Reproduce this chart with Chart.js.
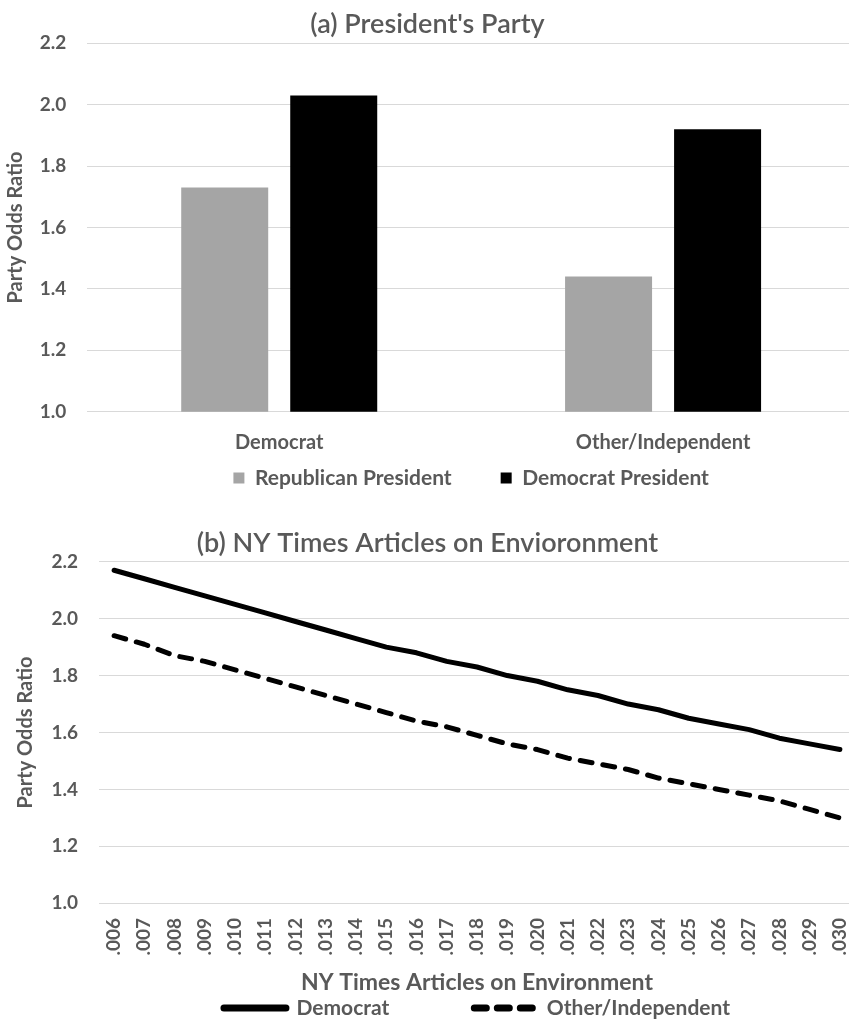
<!DOCTYPE html>
<html>
<head>
<meta charset="utf-8">
<script src="https://cdn.jsdelivr.net/npm/chart.js@4/dist/chart.umd.min.js"></script>
<style>
  html, body { margin: 0; padding: 0; background: #fff; width: 849px; height: 1021px; overflow: hidden; position: relative; }
  canvas { position: absolute; left: 0; }
  #presChart { top: 0; }
  #nytChart { top: 500px; }
</style>
</head>
<body>
<canvas id="presChart" width="860" height="500"></canvas>
<canvas id="nytChart" width="860" height="530"></canvas>
<script>
// (a) odds ratio by respondent party and president's party
const partyCategories = ['Democrat', 'Other/Independent'];
const republicanPresident = [1.73, 1.44];
const democratPresident = [2.03, 1.92];

// (b) odds ratio against share of NY Times articles on environment
const articleShares = ['.006', '.007', '.008', '.009', '.010', '.011', '.012', '.013', '.014', '.015',
  '.016', '.017', '.018', '.019', '.020', '.021', '.022', '.023', '.024', '.025',
  '.026', '.027', '.028', '.029', '.030'];
const democratOdds = [2.17, 2.14, 2.11, 2.08, 2.05, 2.02, 1.99, 1.96, 1.93, 1.90,
  1.88, 1.85, 1.83, 1.80, 1.78, 1.75, 1.73, 1.70, 1.68, 1.65,
  1.63, 1.61, 1.58, 1.56, 1.54];
const otherOdds = [1.94, 1.91, 1.87, 1.85, 1.82, 1.79, 1.76, 1.73, 1.70, 1.67,
  1.64, 1.62, 1.59, 1.56, 1.54, 1.51, 1.49, 1.47, 1.44, 1.42,
  1.40, 1.38, 1.36, 1.33, 1.30];

const oddsMin = 1.0;
const oddsMax = 2.2;
const oddsStep = 0.2;

Chart.defaults.font.family = 'Lato, "Open Sans", sans-serif';
Chart.defaults.color = '#595959';
const gridColor = '#d9d9d9';
const textColor = '#595959';

// pin axis sizes so the plot boxes land where the original's do
const fixWidth = (w) => (scale) => { scale.width = w; };
const fixHeight = (h) => (scale) => { scale.height = h; };

function oddsAxis(width, titlePad) {
    return {
        min: oddsMin,
        max: oddsMax,
        ticks: {
            stepSize: oddsStep,
            padding: 21,
            font: {size: 19, weight: 'bold'},
            callback: (v) => v.toFixed(1)
        },
        grid: {color: gridColor, drawTicks: false},
        border: {display: false},
        title: {
            display: true,
            text: 'Party Odds Ratio',
            color: textColor,
            font: {size: 20, weight: 'bold'},
            padding: {top: titlePad, bottom: 0}
        },
        afterFit: fixWidth(width)
    };
}

// with usePointStyle the default labels lose the dataset dash, so put it back
function lineLegendLabels(chart) {
    const items = Chart.defaults.plugins.legend.labels.generateLabels(chart);
    items.forEach((item) => {
        const ds = chart.data.datasets[item.datasetIndex];
        item.lineDash = ds.borderDash || [];
        item.lineWidth = 7;
        item.lineCap = 'round';
        item.strokeStyle = ds.borderColor;
        item.pointStyle = 'line';
    });
    return items;
}

new Chart(document.getElementById('presChart'), {
    type: 'bar',
    data: {
        labels: partyCategories,
        datasets: [
            {
                label: 'Republican President',
                data: republicanPresident,
                backgroundColor: '#a5a5a5',
                categoryPercentage: 0.568,
                barPercentage: 0.798
            },
            {
                label: 'Democrat President',
                data: democratPresident,
                backgroundColor: '#000000',
                categoryPercentage: 0.568,
                barPercentage: 0.798
            }
        ]
    },
    options: {
        responsive: false,
        animation: false,
        layout: {padding: {left: 0, right: 5, top: 0, bottom: 1.5}},
        plugins: {
            title: {
                display: true,
                text: "(a) President's Party",
                color: textColor,
                font: {size: 27, weight: 600},
                padding: {top: 8, bottom: 2.9}
            },
            legend: {
                position: 'bottom',
                fullSize: false,
                labels: {boxWidth: 11, boxHeight: 11, padding: 49, color: textColor, font: {size: 21, weight: 'bold'}}
            },
            tooltip: {enabled: false}
        },
        scales: {
            x: {
                grid: {display: false},
                border: {display: false},
                // mirrored so the labels are not clipped to the thin axis box
                ticks: {mirror: true, padding: -42.4, font: {size: 20, weight: 'bold'}},
                afterFit: fixHeight(6.8)
            },
            y: oddsAxis(87.3, 3.5)
        }
    }
});

new Chart(document.getElementById('nytChart'), {
    type: 'line',
    data: {
        labels: articleShares,
        datasets: [
            {
                label: 'Democrat',
                data: democratOdds,
                borderColor: '#000000',
                backgroundColor: '#000000',
                borderWidth: 5,
                borderCapStyle: 'round',
                borderJoinStyle: 'round',
                pointRadius: 0,
                tension: 0,
                fill: false
            },
            {
                label: 'Other/Independent',
                data: otherOdds,
                borderColor: '#000000',
                backgroundColor: '#000000',
                borderWidth: 5,
                borderDash: [12, 11],
                borderCapStyle: 'round',
                borderJoinStyle: 'round',
                pointRadius: 0,
                tension: 0,
                fill: false
            }
        ]
    },
    options: {
        responsive: false,
        animation: false,
        layout: {padding: {left: 0, right: 5, top: 0, bottom: 1.5}},
        plugins: {
            title: {
                display: true,
                text: '(b) NY Times Articles on Envioronment',
                color: textColor,
                font: {size: 27, weight: 600},
                padding: {top: 26.8, bottom: 2.5}
            },
            legend: {
                position: 'bottom',
                fullSize: false,
                labels: {
                    usePointStyle: true,
                    pointStyle: 'line',
                    pointStyleWidth: 62,
                    padding: 85,
                    color: textColor,
                    font: {size: 21, weight: 'bold'},
                    generateLabels: lineLegendLabels
                }
            },
            tooltip: {enabled: false}
        },
        scales: {
            x: {
                offset: true,
                grid: {display: false},
                border: {display: false},
                ticks: {
                    autoSkip: false,
                    minRotation: 90,
                    maxRotation: 90,
                    mirror: true,
                    padding: -14.7,
                    labelOffset: 22.8,
                    font: {size: 19, weight: 'bold'}
                },
                title: {
                    display: true,
                    text: 'NY Times Articles on Environment',
                    color: textColor,
                    font: {size: 23, weight: 'bold'},
                    padding: {top: 0, bottom: -84.3}
                },
                afterFit: fixHeight(9.2)
            },
            y: oddsAxis(99, 14)
        }
    }
});
</script>
</body>
</html>
